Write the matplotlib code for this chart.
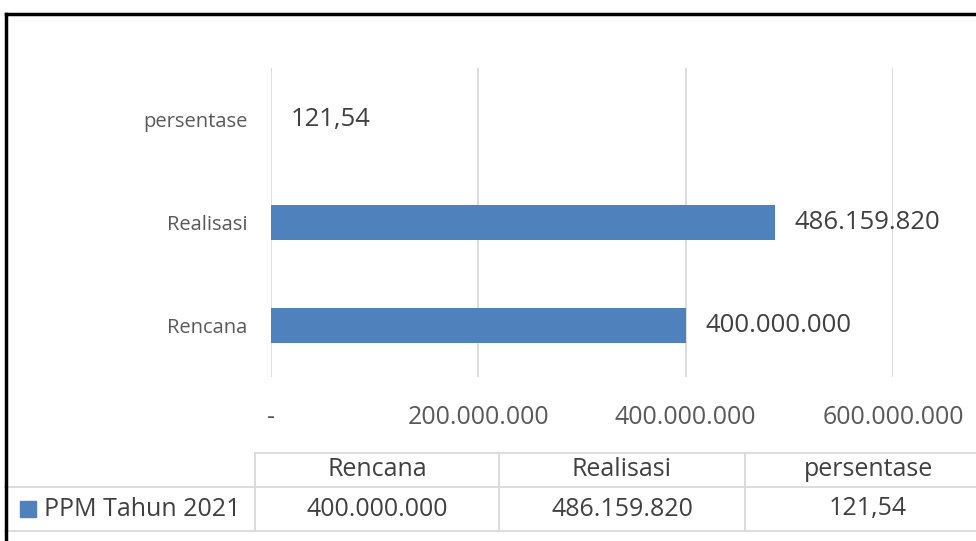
import matplotlib
matplotlib.use("Agg")
import matplotlib.pyplot as plt
from matplotlib.lines import Line2D
from matplotlib.patches import Rectangle

categories = ["Rencana", "Realisasi", "persentase"]
values = [400000000, 486159820, 121.54]
value_labels = ["400.000.000", "486.159.820", "121,54"]
xticks = [0, 200000000, 400000000, 600000000]
xtick_labels = ["-", "200.000.000", "400.000.000", "600.000.000"]
series_name = "PPM Tahun 2021"

BAR = "#4F81BD"
GRID = "#D9D9D9"
TXT = "#404040"
TICK = "#595959"
FONT = ["Open Sans", "DejaVu Sans"]
plt.rcParams['font.family'] = FONT

W, H = 976, 541
fig = plt.figure(figsize=(W / 100, H / 100), dpi=100)

def fx(px):
    return px / W

def fy(py):
    return 1 - py / H

ax = fig.add_axes([fx(271), fy(377), fx(893) - fx(271), fy(68) - fy(377)])
y = list(range(len(categories)))
ax.barh(y, values, height=0.34, color=BAR, zorder=3)
ax.set_xlim(0, 600000000)
ax.set_ylim(-0.5, 2.5)
ax.set_xticks(xticks)
ax.set_xticklabels(xtick_labels, fontsize=18, color=TICK)
ax.set_yticks(y)
ax.set_yticklabels(categories, fontsize=14.5, color=TICK)
ax.tick_params(axis='both', length=0)
ax.tick_params(axis='x', pad=20)
ax.tick_params(axis='y', pad=17)
for s in ax.spines.values():
    s.set_visible(False)
ax.grid(axis='x', color=GRID, linewidth=1.3, zorder=0)
ax.set_axisbelow(True)
for yi, v, lab in zip(y, values, value_labels):
    ax.annotate(lab, (v, yi), xytext=(14, 0), textcoords='offset points',
                va='center', ha='left', fontsize=18.5, color=TXT)

# data table
lw = 1.3
fig.add_artist(Line2D([fx(255), 1], [fy(453), fy(453)], color=GRID, lw=lw))
fig.add_artist(Line2D([fx(5), 1], [fy(487), fy(487)], color=GRID, lw=lw))
fig.add_artist(Line2D([fx(5), 1], [fy(531), fy(531)], color=GRID, lw=lw))
for cx in [255, 499, 745]:
    fig.add_artist(Line2D([fx(cx), fx(cx)], [fy(453), fy(531)], color=GRID, lw=lw))
col_centers = [377, 622, 868]
for c, cat, lab in zip(col_centers, categories, value_labels):
    fig.text(fx(c), fy(469), cat, ha='center', va='center', fontsize=18, color=TXT)
    fig.text(fx(c), fy(509), lab, ha='center', va='center', fontsize=18, color=TXT)
fig.add_artist(Rectangle((fx(20), fy(517)), fx(16), fy(501) - fy(517), color=BAR,
                         transform=fig.transFigure))
fig.text(fx(44), fy(509), series_name, ha='left', va='center', fontsize=18, color=TXT)

# outer border (left and top)
fig.add_artist(Line2D([fx(6), fx(6)], [fy(14), 0], color='black', lw=2.5,
                      solid_capstyle='projecting'))
fig.add_artist(Line2D([fx(6), 1], [fy(14), fy(14)], color='black', lw=2.5,
                      solid_capstyle='projecting'))

fig.savefig("out.png", dpi=100, facecolor='white')
